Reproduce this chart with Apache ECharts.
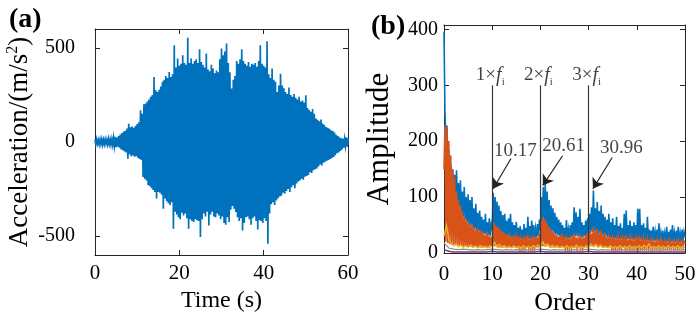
<!DOCTYPE html>
<html><head><meta charset="utf-8">
<script src="https://cdn.jsdelivr.net/npm/echarts@6/dist/echarts.min.js"></script>
<style>html,body{margin:0;padding:0;background:#fff}#c{width:700px;height:324px}</style>
</head><body><div id="c"></div>
<script>
// ---------- Panel (a): acceleration envelope (t = 0, 0.4, ... 60 s)
const timeStep = 0.4;
const accUpper = [12,14,10,13,15,11,14,12,16,13,
15,22,27,24,32,40,48,55,60,72,
97,78,82,76,85,95,105,168,150,200,
205,215,225,240,250,345,275,265,278,295,
320,330,350,340,372,345,360,514,395,443,
405,415,460,420,410,553,420,443,415,430,
440,420,493,425,410,395,470,385,375,410,
390,365,380,370,440,496,460,480,523,420,
370,284,330,350,430,415,440,493,430,415,
405,425,400,415,410,420,400,430,514,415,
405,395,535,360,340,390,330,320,265,300,
363,300,285,265,255,290,250,240,255,235,
225,240,215,220,210,248,180,170,160,175,
150,125,118,110,120,98,90,80,75,70,
62,58,50,38,32,25,20,18,15,25,
20];
const accLower = [-12,-10,-13,-11,-14,-12,-10,-13,-12,-14,
-15,-20,-27,-25,-30,-40,-44,-50,-55,-89,
-65,-75,-72,-78,-75,-85,-90,-95,-186,-195,
-205,-230,-235,-245,-255,-265,-300,-265,-270,-280,
-355,-300,-315,-325,-335,-320,-460,-370,-385,-400,
-410,-375,-390,-380,-405,-460,-410,-420,-425,-410,
-415,-420,-505,-410,-380,-395,-370,-443,-385,-370,
-395,-400,-380,-390,-410,-395,-430,-440,-400,-425,
-360,-340,-355,-372,-400,-420,-405,-470,-430,-400,
-395,-410,-440,-405,-395,-420,-465,-415,-420,-430,
-405,-420,-540,-380,-330,-320,-335,-310,-300,-290,
-285,-270,-275,-260,-250,-265,-240,-230,-245,-220,
-210,-205,-195,-200,-185,-180,-175,-160,-165,-150,
-145,-140,-130,-120,-125,-110,-105,-100,-95,-90,
-85,-80,-70,-60,-55,-48,-40,-30,-22,-25,
-15];
const accTicks = [-500, 0, 500];
const timeTickStep = 20;

// ---------- Panel (b): order spectra (order = 0, 0.2, ... 50)
const orderStep = 0.2;
const ampBlue = [396,250,200,228,170,185,140,160,120,150,
110,140,95,148,85,125,80,130,70,110,
65,118,60,100,55,105,50,95,48,100,
45,80,42,88,40,72,38,76,36,65,
35,60,34,70,32,55,32,62,30,50,
40,108,45,100,42,92,40,85,38,75,
35,68,33,70,30,58,30,62,28,70,
28,55,26,50,26,56,25,45,25,48,
24,42,24,52,24,45,25,65,25,48,
25,58,26,50,26,44,28,52,30,60,
40,100,45,118,48,124,45,110,42,95,
40,85,38,80,35,72,33,65,32,60,
30,55,28,50,27,45,27,59,26,42,
27,50,28,55,30,82,30,73,30,65,
30,79,28,55,28,50,30,58,32,62,
35,70,36,82,38,112,38,80,36,91,
35,75,34,85,32,70,30,65,30,60,
28,70,28,55,27,62,26,50,26,65,
26,48,25,53,25,45,25,70,25,76,
25,50,25,58,25,48,24,55,24,50,
24,79,24,79,24,50,23,53,23,45,
23,65,22,42,22,40,22,47,22,38,
21,42,21,53,21,36,20,40,20,35,
20,47,20,38,20,42,20,50,20,36,
20,40,20,47,20,35,20,42,20,38,
29];
const ampOrange = [150,228,20,225,18,200,16,175,15,150,
15,136,14,110,14,95,13,85,13,75,
12,65,12,60,12,55,12,50,11,52,
11,45,11,41,11,45,10,38,10,41,
10,35,10,32,10,38,10,30,10,29,
12,56,12,50,12,47,10,45,10,41,
10,38,10,35,10,32,10,36,10,30,
10,28,10,33,10,27,10,30,10,25,
10,28,10,24,10,30,10,26,10,23,
10,28,10,25,10,30,10,28,10,35,
12,59,12,65,12,60,12,53,12,47,
10,41,10,38,10,35,10,32,10,30,
10,33,10,27,10,30,10,25,10,28,
10,24,10,30,10,35,10,28,10,26,
10,30,10,25,10,28,10,32,10,35,
12,41,12,35,12,47,12,38,12,44,
12,35,12,40,10,33,10,36,10,29,
10,27,10,29,10,25,10,28,10,24,
10,27,10,23,10,26,10,29,10,25,
10,22,10,26,10,24,10,21,10,25,
10,28,10,24,10,22,10,25,10,21,
10,24,10,20,10,23,10,21,10,19,
10,22,10,20,10,24,10,19,10,21,
10,18,10,22,10,20,10,18,10,21,
10,19,10,22,10,18,10,20,10,21,
17];
const yellowStep = 0.5;
const ampYellow = [30,50,25,18,13,16,11,14,10,13,
10,14,10,12,9,13,10,12,9,13,
12,19,11,15,10,13,9,12,9,13,
9,12,9,13,9,12,9,13,10,14,
12,20,12,16,10,14,10,13,9,12,
9,13,9,12,9,14,9,12,9,13,
10,16,11,15,10,14,10,12,9,13,
9,12,9,13,9,12,9,13,9,12,
9,13,9,14,10,16,9,12,9,13,
9,12,9,13,9,12,9,13,9,12,
10];
const lowStep = 1;
const ampGreen = [18,9,7,6,7,6,5,6,5,6,7,6,5,6,5,6,5,6,5,6,7,6,5,6,5,6,5,6,5,6,7,6,5,6,5,6,5,6,5,6,5,6,6,5,6,5,6,5,6,5,6];
const ampPurple = [6,3,2,2,2,2,2,2,2,2,3,2,2,2,2,2,2,2,2,2,3,2,2,2,2,2,2,2,2,2,3,2,2,2,2,2,2,2,2,2,2,2,2,2,2,2,2,2,2,2,2];
const ampTicks = [0, 100, 200, 300, 400];
const orderTickStep = 10;

// annotations
const harmonicOrders = [10, 20, 30];
const harmonicMultipliers = ['1', '2', '3'];
const harmonicLineTop = 300;
const harmonicLabelAmp = 318;
const peakTexts = ['10.17', '20.61', '30.96'];
const peakLabelPos = [[14.8, 183], [24.8, 192], [36.8, 188]];
const arrowTails = [[13.9, 169], [24.6, 174], [34.9, 171]];
const arrowTips = [[10.2, 115], [20.5, 121], [30.9, 115]];

// ---------- build
const FONT = "'Liberation Serif','Times New Roman',serif";
const accData = [];
for (let i = 0; i < accUpper.length; i++) {
  const t = i * timeStep;
  accData.push([t, accUpper[i]]);
  const tl = t + timeStep / 2 <= 60 ? t + timeStep / 2 : t;
  accData.push([tl, accLower[i]]);
}
const spec = (arr, step) => arr.map((v, i) => [+(i * step).toFixed(3), v]);

const lineS = (data, color, w, xi, yi, extra) => Object.assign({
  type: 'line', xAxisIndex: xi, yAxisIndex: yi, data: data, symbol: 'none', showSymbol: false,
  lineStyle: { color: color, width: w, join: 'miter' }, itemStyle: { color: color }, silent: true, animation: false,
  emphasis: { disabled: true }
}, extra || {});

const axisCol = '#262626';
const axisLineCfg = { show: true, onZero: false, lineStyle: { color: axisCol, width: 1 } };
const tickCfg = (vals) => Object.assign({ show: true, inside: true, length: 5, lineStyle: { color: axisCol, width: 1 } }, vals ? { customValues: vals } : {});

const option = {
  animation: false,
  backgroundColor: '#fff',
  title: [
    { text: '(a)', left: 4, top: 1, textStyle: { fontFamily: FONT, fontWeight: 'bold', fontSize: 28, color: '#000' } },
    { text: '(b)', left: 366, top: 8, textStyle: { fontFamily: FONT, fontWeight: 'bold', fontSize: 28, color: '#000' } }
  ],
  grid: [
    { left: 95, top: 29, width: 253, height: 226, show: false },
    { left: 444, top: 25, width: 241, height: 228, show: false }
  ],
  xAxis: [
    { gridIndex: 0, type: 'value', min: 0, max: 60, interval: timeTickStep, position: 'bottom',
      axisLine: axisLineCfg, axisTick: tickCfg(), splitLine: { show: false },
      axisLabel: { fontFamily: FONT, fontSize: 21, color: '#000', margin: 8 },
      name: 'Time (s)', nameLocation: 'middle', nameGap: 31,
      nameTextStyle: { fontFamily: FONT, fontSize: 24, color: '#000' } },
    { gridIndex: 0, type: 'value', min: 0, max: 60, interval: timeTickStep, position: 'top',
      axisLine: axisLineCfg, axisTick: tickCfg(), splitLine: { show: false }, axisLabel: { show: false } },
    { gridIndex: 1, type: 'value', min: 0, max: 50, interval: orderTickStep, position: 'bottom',
      axisLine: axisLineCfg, axisTick: tickCfg(), splitLine: { show: false },
      axisLabel: { fontFamily: FONT, fontSize: 21, color: '#000', margin: 11 },
      name: 'Order', nameLocation: 'middle', nameGap: 29,
      nameTextStyle: { fontFamily: FONT, fontSize: 26, color: '#000' } },
    { gridIndex: 1, type: 'value', min: 0, max: 50, interval: orderTickStep, position: 'top',
      axisLine: axisLineCfg, axisTick: tickCfg(), splitLine: { show: false }, axisLabel: { show: false } }
  ],
  yAxis: [
    { gridIndex: 0, type: 'value', min: -600, max: 600, position: 'left',
      axisLine: axisLineCfg, axisTick: tickCfg(accTicks), splitLine: { show: false },
      axisLabel: { customValues: accTicks, fontFamily: FONT, fontSize: 20, color: '#000', margin: 20 },
      name: 'Acceleration/(m/s{sup|2})', nameLocation: 'middle', nameGap: 57, nameRotate: 90,
      nameTextStyle: { fontFamily: FONT, fontSize: 27, color: '#000', lineHeight: 30,
        rich: { sup: { fontFamily: FONT, fontSize: 16, color: '#000', verticalAlign: 'top', lineHeight: 16 } } } },
    { gridIndex: 0, type: 'value', min: -600, max: 600, position: 'right',
      axisLine: axisLineCfg, axisTick: tickCfg(accTicks), splitLine: { show: false },
      axisLabel: { show: false, customValues: accTicks } },
    { gridIndex: 1, type: 'value', min: 0, max: 408, position: 'left',
      axisLine: axisLineCfg, axisTick: tickCfg(ampTicks), splitLine: { show: false },
      axisLabel: { customValues: ampTicks, fontFamily: FONT, fontSize: 20, color: '#000', margin: 6 },
      name: 'Amplitude', nameLocation: 'middle', nameGap: 49, nameRotate: 90,
      nameTextStyle: { fontFamily: FONT, fontSize: 31, color: '#000' } },
    { gridIndex: 1, type: 'value', min: 0, max: 408, position: 'right',
      axisLine: axisLineCfg, axisTick: tickCfg(ampTicks), splitLine: { show: false },
      axisLabel: { show: false, customValues: ampTicks } }
  ],
  series: [
    lineS(accData, '#0072BD', 1.7, 0, 0),
    lineS(spec(ampBlue, orderStep), '#0072BD', 1.6, 2, 2),
    lineS(spec(ampOrange, orderStep), '#D95319', 1.6, 2, 2),
    lineS(spec(ampYellow, yellowStep), '#EDB120', 1.4, 2, 2),
    lineS(spec(ampGreen, lowStep), '#8a9a70', 1.2, 2, 2, {
      markLine: { silent: true, symbol: 'none', animation: false, label: { show: false },
        lineStyle: { color: '#3a3a3a', width: 1.2, type: 'solid' },
        data: harmonicOrders.map(o => [{ coord: [o, 0] }, { coord: [o, harmonicLineTop] }]) } }),
    lineS(spec(ampPurple, lowStep), '#7E2F8E', 1.5, 2, 2, {
      markLine: { silent: true, symbol: ['none', 'arrow'], symbolSize: 10, animation: false, label: { show: false },
        lineStyle: { color: '#222', width: 1.2, type: 'solid' }, itemStyle: { color: '#222' },
        data: arrowTails.map((a, k) => [{ coord: a }, { coord: arrowTips[k] }]) } }),
    { type: 'scatter', xAxisIndex: 2, yAxisIndex: 2, symbolSize: 0, silent: true, animation: false,
      data: peakTexts.map((s, k) => [peakLabelPos[k][0], peakLabelPos[k][1], s]),
      label: { show: true, position: 'inside', formatter: p => p.value[2], fontFamily: FONT, fontSize: 19, color: '#111' } },
    { type: 'scatter', xAxisIndex: 2, yAxisIndex: 2, symbolSize: 0, silent: true, animation: false,
      data: harmonicOrders.map((o, k) => [o - 0.4, harmonicLabelAmp, harmonicMultipliers[k]]),
      label: { show: true, position: 'inside', formatter: p => p.value[2] + '×{f|f}{s|i}',
        fontFamily: FONT, fontSize: 19, color: '#111', lineHeight: 24,
        rich: { f: { fontFamily: FONT, fontStyle: 'italic', fontSize: 20, color: '#111', lineHeight: 24 },
                s: { fontFamily: FONT, fontSize: 11, color: '#111', verticalAlign: 'bottom', lineHeight: 13 } } } }
  ]
};
const chart = echarts.init(document.getElementById('c'), null, { renderer: 'canvas' });
chart.setOption(option);
</script></body></html>
